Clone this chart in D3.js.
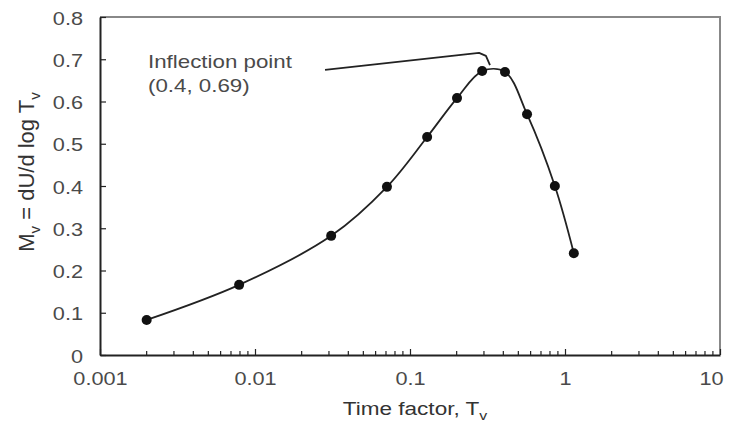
<!DOCTYPE html>
<html>
<head>
<meta charset="utf-8">
<script src="https://cdn.jsdelivr.net/npm/d3@7"></script>
<style>
  body { margin: 0; background: #fff; }
  svg { font-family: "Liberation Sans", Arial, sans-serif; }
</style>
</head>
<body>
<div id="chart"></div>
<script>
// data
var timeFactor = [0.002, 0.0079, 0.031, 0.071, 0.129, 0.201, 0.292, 0.41, 0.569, 0.86, 1.14];
var mvValues   = [0.083, 0.166, 0.282, 0.398, 0.516, 0.608, 0.672, 0.670, 0.570, 0.400, 0.241];
var yTicks = [0, 0.1, 0.2, 0.3, 0.4, 0.5, 0.6, 0.7, 0.8];
var xTicks = [0.001, 0.01, 0.1, 1, 10];
var xTickLabels = ["0.001", "0.01", "0.1", "1", "10"];
// annotation pointer (data coords)
var pointerX = [0.0283, 0.279, 0.309, 0.328];
var pointerY = [0.675, 0.715, 0.708, 0.686];

var width = 733, height = 428;
var margin = {top: 17, right: 13, bottom: 73, left: 100};
var plotW = width - margin.left - margin.right;
var plotH = height - margin.top - margin.bottom;
var stretch = 1.24; // reference text is wider than it is tall

var svg = d3.select("#chart").append("svg")
    .attr("width", width)
    .attr("height", height);

var g = svg.append("g")
    .attr("transform", "translate(" + margin.left + "," + margin.top + ")");

var x = d3.scaleLog().domain([0.001, 10]).range([0, plotW]);
var y = d3.scaleLinear().domain([0, 0.8]).range([plotH, 0]);

var textColor = "#4a4a4a";

// frame: top and right in grey
g.append("path")
    .attr("d", "M0,0H" + plotW + "V" + plotH)
    .attr("fill", "none")
    .attr("stroke", "#888")
    .attr("stroke-width", 2);

// minor ticks on x
var minor = [];
for (var dec = -3; dec < 1; dec++) {
    for (var k = 2; k <= 9; k++) minor.push(k * Math.pow(10, dec));
}
g.selectAll(".minor")
    .data(minor)
    .enter().append("line")
    .attr("class", "minor")
    .attr("x1", function(d) { return x(d); })
    .attr("x2", function(d) { return x(d); })
    .attr("y1", plotH)
    .attr("y2", plotH - 4)
    .attr("stroke", "#222")
    .attr("stroke-width", 1.2);

// x axis
var xAxis = g.append("g")
    .attr("transform", "translate(0," + plotH + ")")
    .call(d3.axisBottom(x).tickValues(xTicks)
        .tickFormat(function(d, i) { return xTickLabels[i]; })
        .tickSizeInner(-6).tickSizeOuter(0).tickPadding(18));
xAxis.select(".domain").attr("stroke", "#222").attr("stroke-width", 2);
xAxis.selectAll(".tick line").attr("stroke", "#222").attr("stroke-width", 1.2);
xAxis.selectAll("text")
    .attr("fill", textColor)
    .style("font-size", "17.5px")
    .attr("transform", function(d, i) {
        return (i === xTicks.length - 1 ? "translate(-9,0) " : "") + "scale(" + stretch + ",1)";
    });

// y axis
var yAxis = g.append("g")
    .call(d3.axisLeft(y).tickValues(yTicks)
        .tickFormat(function(d) { return d === 0 ? "0" : d3.format(".1f")(d); })
        .tickSizeInner(-6).tickSizeOuter(0));
yAxis.select(".domain").attr("stroke", "#222").attr("stroke-width", 2);
yAxis.selectAll(".tick line").attr("stroke", "#222").attr("stroke-width", 1.2);
yAxis.selectAll("text")
    .attr("fill", textColor)
    .style("font-size", "17.5px")
    .attr("x", -17 / stretch)
    .attr("dy", "0.4em")
    .attr("transform", "scale(" + stretch + ",1)");

// curve
var pts = timeFactor.map(function(d, i) { return [d, mvValues[i]]; });
var line = d3.line()
    .x(function(d) { return x(d[0]); })
    .y(function(d) { return y(d[1]); })
    .curve(d3.curveCatmullRom.alpha(0.5));

g.append("path")
    .datum(pts)
    .attr("d", line)
    .attr("fill", "none")
    .attr("stroke", "#222")
    .attr("stroke-width", 1.8);

g.selectAll(".pt")
    .data(pts)
    .enter().append("circle")
    .attr("class", "pt")
    .attr("cx", function(d) { return x(d[0]); })
    .attr("cy", function(d) { return y(d[1]); })
    .attr("r", 5)
    .attr("fill", "#111");

// annotation pointer
var ptr = pointerX.map(function(d, i) { return [d, pointerY[i]]; });
g.append("path")
    .datum(ptr)
    .attr("d", d3.line()
        .x(function(d) { return x(d[0]); })
        .y(function(d) { return y(d[1]); }))
    .attr("fill", "none")
    .attr("stroke", "#222")
    .attr("stroke-width", 1.8)
    .attr("stroke-linejoin", "round");

var noteX = x(0.00204), noteY = y(0.68);
var note = g.append("text")
    .attr("transform", "translate(" + noteX + "," + noteY + ") scale(" + stretch + ",1)")
    .attr("fill", textColor)
    .style("font-size", "18px");
note.append("tspan").attr("x", 0).text("Inflection point");
note.append("tspan").attr("x", 0).attr("dy", 24).text("(0.4, 0.69)");

// axis titles
var xt = svg.append("text")
    .attr("transform", "translate(415,415) scale(1.22,1)")
    .attr("text-anchor", "middle")
    .attr("fill", "#333")
    .style("font-size", "18.5px");
xt.append("tspan").text("Time factor, T");
xt.append("tspan").attr("dy", 5).style("font-size", "13px").text("v");

var yt = svg.append("text")
    .attr("transform", "translate(34,172) rotate(-90)")
    .attr("text-anchor", "middle")
    .attr("fill", "#333")
    .style("font-size", "22px");
yt.append("tspan").text("M");
yt.append("tspan").attr("dy", 6).style("font-size", "15px").text("v");
yt.append("tspan").attr("dy", -6).text(" = dU/d log T");
yt.append("tspan").attr("dy", 6).style("font-size", "15px").text("v");
</script>
</body>
</html>
